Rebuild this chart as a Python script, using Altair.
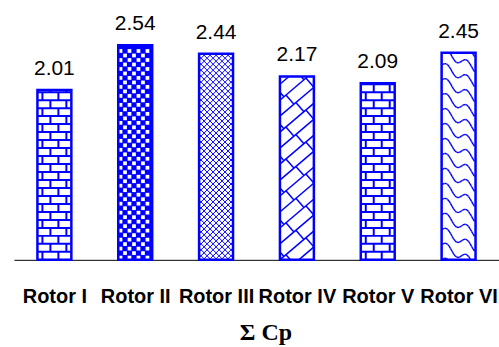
import json
import math

import altair as alt
import pandas as pd

# ---- data -------------------------------------------------------------
rotors = ["Rotor I", "Rotor II", "Rotor III", "Rotor IV", "Rotor V", "Rotor VI"]
cp_sum = [2.01, 2.54, 2.44, 2.17, 2.09, 2.45]

# ---- layout / style ---------------------------------------------------
W, H = 486, 254
Y_MAX = 3.0
X_MIN, X_MAX = -0.5, len(rotors) - 0.5
PX_X = W / (X_MAX - X_MIN)
PX_Y = H / Y_MAX
BAR_PX = 34
HALF = BAR_PX / 2 / PX_X
BLUE = "#0000FF"

fill_style = {
    "Rotor I": "brick",
    "Rotor II": "checker",
    "Rotor III": "weave",
    "Rotor IV": "lattice",
    "Rotor V": "brick",
    "Rotor VI": "wave",
}


def clip(x0, y0, x1, y1, xmin, ymin, xmax, ymax):
    """Liang-Barsky clipping of a segment to a rectangle."""
    dx, dy = x1 - x0, y1 - y0
    t0, t1 = 0.0, 1.0
    for p, q in ((-dx, x0 - xmin), (dx, xmax - x0), (-dy, y0 - ymin), (dy, ymax - y0)):
        if p == 0:
            if q < 0:
                return None
        else:
            t = q / p
            if p < 0:
                if t > t1:
                    return None
                t0 = max(t0, t)
            else:
                if t < t0:
                    return None
                t1 = min(t1, t)
    if t1 - t0 < 1e-9:
        return None
    return (x0 + t0 * dx, y0 + t0 * dy, x0 + t1 * dx, y0 + t1 * dy)


def brick(w, h):
    segs, row, length = [], 8.0, 16.0
    k = 1
    while k * row < h:
        segs.append((0, k * row, w, k * row))
        k += 1
    k = 0
    while k * row < h:
        off = 5.0 if k % 2 == 0 else 13.0
        x = off
        while x < w:
            segs.append((x, k * row, x, (k + 1) * row))
            x += length
        k += 1
    return segs, 2.0


def weave(w, h):
    segs, gap = [], 6.0
    c = -w
    while c < h + w:
        segs.append((0, c, w, c + w))
        segs.append((0, c + w, w, c))
        c += gap
    return segs, 1.0


def lattice(w, h):
    segs, gap, step, slope = [], 16.0, 20.0, 0.85
    k = -4
    while k * gap < h + w:
        c = k * gap
        segs.append((0, c, w, c + slope * w))
        a = 4.0 + (10.0 if k % 2 else 0.0)
        while a < w + 10:
            y = slope * a + c
            segs.append((a, y, a - 8.0, y + 9.2))
            a += step
        k += 1
    return segs, 1.5


def wave(w, h):
    segs, gap = [], 15.0
    k = -3
    while k * gap < h + 30:
        c = k * gap
        pts = []
        x = 0.0
        while x <= w + 0.01:
            pts.append((x, c - 0.55 * x + 4.0 * math.sin(2 * math.pi * x / 20.0)))
            x += 1.5
        for (xa, ya), (xb, yb) in zip(pts, pts[1:]):
            segs.append((xa, ya, xb, yb))
        k += 1
    return segs, 1.4


pattern_fns = {"brick": brick, "weave": weave, "lattice": lattice, "wave": wave}

# ---- tables -----------------------------------------------------------
bars = pd.DataFrame({"rotor": rotors, "idx": list(range(len(rotors))), "value": cp_sum})
bars["x0"] = bars["idx"] - HALF
bars["x1"] = bars["idx"] + HALF
bars["bg"] = ["#0000FF" if fill_style[r] == "checker" else "white" for r in rotors]

seg_rows, dot_rows = [], []
for i, (name, val) in enumerate(zip(rotors, cp_sum)):
    h = val * PX_Y
    style = fill_style[name]
    left = i - HALF
    if style == "checker":
        cell = 4.5
        for a in range(int(BAR_PX // cell) + 1):
            for b in range(int(h // cell) + 1):
                if (a + b) % 2 == 0:
                    cx, cy = (a + 0.5) * cell, (b + 0.5) * cell
                    if 2 < cx < BAR_PX - 2 and cy < h - 2:
                        dot_rows.append({"x": left + cx / PX_X, "y": cy / PX_Y})
        continue
    segs, sw = pattern_fns[style](BAR_PX, h)
    for s in segs:
        c = clip(*s, 0.5, 0, BAR_PX - 0.5, h - 0.5)
        if c is None:
            continue
        seg_rows.append({
            "x": left + c[0] / PX_X, "y": c[1] / PX_Y,
            "x2": left + c[2] / PX_X, "y2": c[3] / PX_Y,
            "sw": sw,
        })

segments = pd.DataFrame(seg_rows)
dots = pd.DataFrame(dot_rows)

# ---- chart ------------------------------------------------------------
xs = alt.Scale(domain=[X_MIN, X_MAX], nice=False, zero=False)
ys = alt.Scale(domain=[0, Y_MAX], nice=False)

x_axis = alt.Axis(
    values=list(range(len(rotors))),
    labelExpr=f"{json.dumps(rotors)}[datum.value]",
    labelFont="Liberation Sans", labelFontSize=20, labelFontWeight="bold",
    labelColor="black", labelOverlap=False, labelPadding=27,
    ticks=False, grid=False, domainColor="black", domainWidth=1,
    title="Σ Cp", titleFont="Liberation Serif", titleFontSize=24,
    titleFontWeight="bold", titleColor="black",
    titleBaseline="alphabetic", titleY=80, titleX=252,
)

background = alt.Chart(bars).mark_rect().encode(
    x=alt.X("x0:Q", scale=xs, axis=x_axis),
    x2="x1:Q",
    y=alt.Y("value:Q", scale=ys, axis=None),
    y2=alt.datum(0),
    fill=alt.Fill("bg:N", scale=None),
)

hatch = alt.Chart(segments).mark_rule(color=BLUE, strokeCap="butt").encode(
    x=alt.X("x:Q", scale=xs, axis=x_axis),
    x2="x2:Q",
    y=alt.Y("y:Q", scale=ys, axis=None),
    y2="y2:Q",
    strokeWidth=alt.StrokeWidth("sw:Q", scale=None),
)

checks = alt.Chart(dots).mark_square(color="white", opacity=1, size=14).encode(
    x=alt.X("x:Q", scale=xs, axis=x_axis),
    y=alt.Y("y:Q", scale=ys, axis=None),
)

outline = alt.Chart(bars).mark_rect(stroke=BLUE, strokeWidth=2.5, fillOpacity=0).encode(
    x=alt.X("x0:Q", scale=xs, axis=x_axis),
    x2="x1:Q",
    y=alt.Y("value:Q", scale=ys, axis=None),
    y2=alt.datum(0),
)

labels = alt.Chart(bars).mark_text(
    font="Liberation Sans", fontSize=21, color="black", baseline="alphabetic", dy=-15
).encode(
    x=alt.X("idx:Q", scale=xs, axis=x_axis),
    y=alt.Y("value:Q", scale=ys, axis=None),
    text=alt.Text("value:Q", format=".2f"),
)

chart = (
    alt.layer(background, hatch, checks, outline, labels)
    .properties(
        width=W, height=H,
        autosize=alt.AutoSizeParams(type="none"),
        padding={"left": 14, "top": 6, "right": 0, "bottom": 87},
        background="white",
    )
    .configure_view(strokeWidth=0)
)

chart.save("out.html", embed_options={"renderer": "svg", "actions": False})
